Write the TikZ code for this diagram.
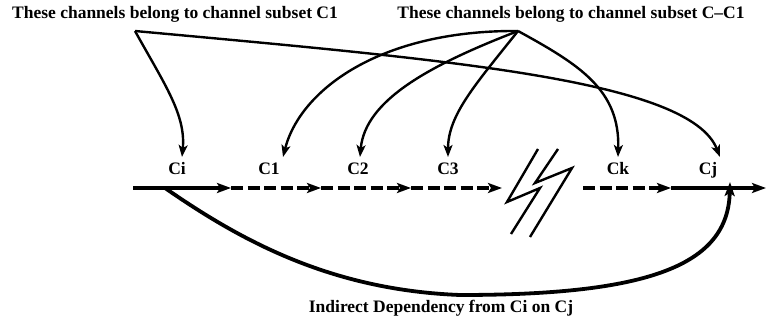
\documentclass[tikz,border=0pt]{standalone}
\usepackage{fontspec}
\setmainfont{Liberation Serif}
\usetikzlibrary{arrows.meta}
\begin{document}
\begin{tikzpicture}[x=1pt,y=-1pt,
  txt/.style={font=\bfseries\fontsize{17.5}{19}\selectfont, inner sep=1pt},
  ptr/.style={line width=2.4pt, -{Stealth[length=12pt,width=9pt,inset=3pt]}},
  seg/.style={line width=4pt, -{Stealth[length=14pt,width=10pt,inset=3pt]}},
  dseg/.style={seg, dash pattern=on 12pt off 4.5pt},
  brk/.style={line width=2.4pt, line join=miter},
  dep/.style={line width=3.8pt, -{Stealth[length=14pt,width=10pt,inset=3pt]}},
]
\useasboundingbox (0,0) rectangle (767,328);

% texts
\node[txt] (t1) at (175,14) {These channels belong to channel subset C1};
\node[txt] (t2) at (571,14) {These channels belong to channel subset C--C1};
\node[txt] (t3) at (441,308) {Indirect Dependency from Ci on Cj};

% channel labels
\node[txt, anchor=base] (ci) at (177,175) {Ci};
\node[txt, anchor=base] (c1) at (269,175) {C1};
\node[txt, anchor=base] (c2) at (358,175) {C2};
\node[txt, anchor=base] (c3) at (448,175) {C3};
\node[txt, anchor=base] (ck) at (618,175) {Ck};
\node[txt, anchor=base] (cj) at (708,175) {Cj};

% apexes
\coordinate (a1) at (135,31);
\coordinate (a2) at (518,31);

% baseline points
\coordinate (b0) at (133,188);
\coordinate (b1) at (231,188);
\coordinate (b2) at (321,188);
\coordinate (b3) at (411,188);
\coordinate (b4) at (502,188);
\coordinate (b5) at (583,188);
\coordinate (b6) at (671,188);
\coordinate (b7) at (766,188);
\coordinate (s0) at (165,188);
\coordinate (e0) at (730,182);

% baseline
\draw[seg] (b0) -- (b1);
\draw[dseg] (b1) -- (b2);
\draw[dseg] (b2) -- (b3);
\draw[dseg] (b3) -- (b4);
\draw[dseg] (b5) -- (b6);
\draw[seg] (b6) -- (b7);

% break symbol
\draw[brk] (538,149) -- (507,202) -- (540,188) -- (511,234);
\draw[brk] (558,149) -- (535,183) -- (572,168) -- (530,237);

% pointers from subset C1
\draw[ptr] (a1) .. controls (165,85) and (186,115) .. ([xshift=5pt,yshift=18pt]ci.base);
\draw[ptr] (a1) .. controls (450,60) and (690,80) .. ([xshift=12pt,yshift=18pt]cj.base);

% pointers from subset C-C1
\draw[ptr] (a2) .. controls (380,30) and (300,90) .. ([xshift=14pt,yshift=18pt]c1.base);
\draw[ptr] (a2) .. controls (430,65) and (365,100) .. ([xshift=2pt,yshift=18pt]c2.base);
\draw[ptr] (a2) .. controls (475,85) and (448,115) .. ([yshift=18pt]c3.base);
\draw[ptr] (a2) .. controls (580,65) and (620,90) .. ([yshift=18pt]ck.base);

% indirect dependency
\draw[dep] (s0) .. controls (240,240) and (330,290) .. (460,295)
  .. controls (650,295) and (728,265) .. (e0);
\end{tikzpicture}
\end{document}
